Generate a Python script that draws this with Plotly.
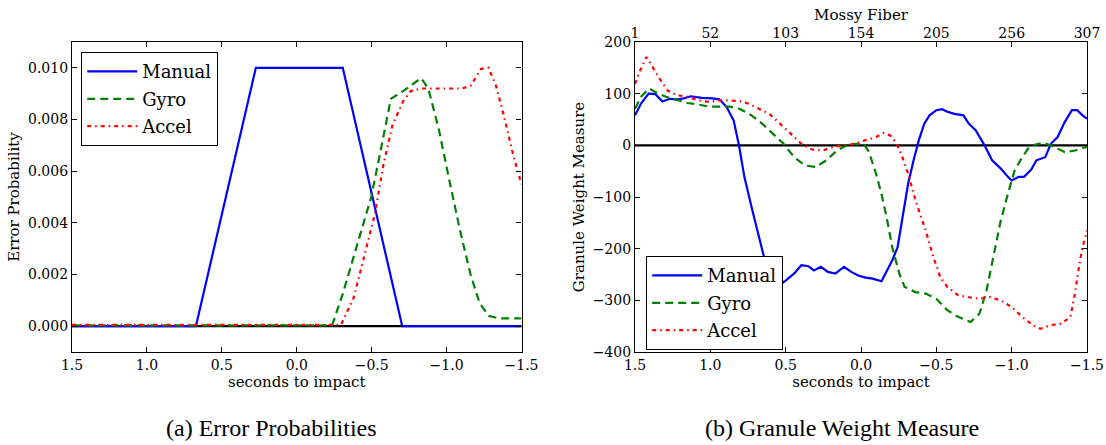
import plotly.graph_objects as go

# ---------------- Left panel: Error Probabilities ----------------
manual_t = [1.5, 0.673, 0.273, -0.307, -0.704, -1.5]
manual_p = [0.0, 0.0, 0.010, 0.010, 0.0, 0.0]

gyro_t = [1.5, 1.0, 0.5, 0.0, -0.236, -0.307, -0.366, -0.43, -0.497, -0.56, -0.628, -0.71, -0.83, -0.878,
          -0.949, -1.02, -1.09, -1.16, -1.22, -1.28, -1.35, -1.5]
gyro_p = [0.00003, 0.00003, 0.00003, 0.00003, 0.00003, 0.00125, 0.0024, 0.0037, 0.005, 0.0068, 0.0088,
          0.0091, 0.0096, 0.0092, 0.0076, 0.0056, 0.0037, 0.002, 0.0009, 0.0004, 0.0003, 0.0003]

accel_t = [1.5, 1.0, 0.5, 0.0, -0.295, -0.38, -0.45, -0.52, -0.58, -0.64, -0.71, -0.76, -0.83, -0.90,
           -1.0, -1.1, -1.16, -1.23, -1.28, -1.33, -1.38, -1.45, -1.5]
accel_p = [0.00005, 0.00005, 0.00005, 0.00005, 0.00005, 0.0011, 0.0027, 0.0043, 0.0063, 0.0078, 0.0087,
           0.0091, 0.0092, 0.0092, 0.0092, 0.0092, 0.0093, 0.00996, 0.0100, 0.0093, 0.0082, 0.0065, 0.0055]

# ---------------- Right panel: Granule Weight Measure ----------------
gm_t = [1.5, 1.46, 1.41, 1.365, 1.318, 1.27, 1.22, 1.176, 1.13, 1.058, 0.987, 0.94, 0.892, 0.845, 0.81,
        0.774, 0.727, 0.68, 0.644, 0.609, 0.514, 0.443, 0.396, 0.349, 0.313, 0.266, 0.22, 0.17, 0.112,
        0.065, 0.018, -0.03, -0.077, -0.136, -0.17, -0.207, -0.243, -0.278, -0.313, -0.349, -0.384,
        -0.42, -0.455, -0.5, -0.538, -0.573, -0.62, -0.68, -0.715, -0.762, -0.82, -0.87, -0.928, -0.975,
        -1.0, -1.046, -1.082, -1.13, -1.164, -1.223, -1.26, -1.305, -1.352, -1.4, -1.435, -1.47, -1.5]
gm_v = [58, 81, 100, 99, 85, 90, 89, 91, 95, 92, 91, 89, 74, 48, 0,
        -61, -119, -171, -216, -242, -265, -248, -232, -234, -242, -235, -245, -248, -235,
        -245, -252, -256, -258, -263, -245, -223, -197, -139, -74, -29, 10,
        42, 58, 68, 70, 65, 61, 58, 42, 29, 0, -29, -45, -61,
        -68, -61, -61, -47, -29, -23, 3, 16, 45, 68, 68, 58, 52]

gg_t = [1.5, 1.46, 1.405, 1.365, 1.294, 1.22, 1.152, 1.08, 1.01, 0.94, 0.869, 0.8, 0.727, 0.656, 0.585,
        0.514, 0.443, 0.372, 0.3, 0.23, 0.16, 0.1, 0.04, -0.02, -0.053, -0.1, -0.136, -0.17, -0.207,
        -0.254, -0.29, -0.36, -0.43, -0.5, -0.573, -0.644, -0.727, -0.786, -0.833, -0.88, -0.928,
        -0.975, -1.02, -1.07, -1.117, -1.164, -1.21, -1.28, -1.352, -1.42, -1.5]
gg_v = [71, 94, 110, 103, 94, 87, 82, 79, 75, 75, 75, 70, 58, 42, 23,
        3, -23, -39, -42, -29, -10, -1, 3, 2, -13, -55, -94, -139, -197,
        -248, -274, -284, -287, -297, -319, -332, -342, -326, -281, -210, -145,
        -94, -48, -23, -3, 2, 5, -3, -13, -10, -3]

ga_t = [1.5, 1.47, 1.424, 1.377, 1.33, 1.283, 1.22, 1.152, 1.08, 1.01, 0.94, 0.869, 0.8, 0.75, 0.68,
        0.609, 0.538, 0.467, 0.396, 0.325, 0.254, 0.183, 0.112, 0.04, -0.03, -0.1, -0.148, -0.195,
        -0.23, -0.266, -0.313, -0.349, -0.384, -0.43, -0.48, -0.526, -0.573, -0.644, -0.715, -0.786,
        -0.857, -0.928, -1.0, -1.07, -1.14, -1.19, -1.26, -1.33, -1.39, -1.42, -1.447, -1.47, -1.5]
ga_v = [119, 142, 171, 148, 126, 106, 97, 94, 87, 84, 87, 87, 85, 81, 71,
        61, 42, 23, 3, -8, -10, -3, 0, 3, 10, 16, 24, 19,
        6, -16, -55, -94, -126, -165, -216, -255, -274, -290, -294, -297,
        -294, -300, -313, -332, -348, -355, -348, -345, -332, -287, -235, -197, -165]

x_ticks = [1.5, 1.0, 0.5, 0.0, -0.5, -1.0, -1.5]
fiber_ticks = [1, 52, 103, 154, 205, 256, 307]

BLUE = "#0000ff"
GREEN = "#008000"
RED = "#ff0000"
FONT = "DejaVu Serif"
CAPTION_FONT = "Liberation Serif"
W, H = 1106, 445

fig = go.Figure()

def add_series(t, v, name, color, dash, xa, ya, legend):
    fig.add_trace(go.Scatter(
        x=t, y=v, name=name, mode="lines",
        line=dict(color=color, width=2.2, dash=dash),
        xaxis=xa, yaxis=ya, legend=legend, legendgroup=legend + name,
    ))

add_series(manual_t, manual_p, "Manual", BLUE, "solid", "x", "y", "legend")
add_series(gyro_t, gyro_p, "Gyro", GREEN, "8px,5px", "x", "y", "legend")
add_series(accel_t, accel_p, "Accel", RED, "4px,4px,1.5px,4px", "x", "y", "legend")

add_series(gm_t, gm_v, "Manual", BLUE, "solid", "x2", "y2", "legend2")
add_series(gg_t, gg_v, "Gyro", GREEN, "8px,5px", "x2", "y2", "legend2")
add_series(ga_t, ga_v, "Accel", RED, "4px,4px,1.5px,4px", "x2", "y2", "legend2")

# invisible helper trace so that the top "Mossy Fiber" axis is drawn
fig.add_trace(go.Scatter(x=[fiber_ticks[0], fiber_ticks[-1]], y=[None, None], mode="lines",
                         xaxis="x3", yaxis="y2", showlegend=False, hoverinfo="skip",
                         line=dict(width=0)))

# zero reference lines
fig.add_shape(type="line", xref="x domain", yref="y", x0=0, x1=1, y0=0, y1=0,
              line=dict(color="black", width=2.2), layer="below")
fig.add_shape(type="line", xref="x2 domain", yref="y2", x0=0, x1=1, y0=0, y1=0,
              line=dict(color="black", width=2.2), layer="below")

def px_x(p):
    return p / W

def px_y(p):
    return 1 - p / H

left_dom = [px_x(72), px_x(521.5)]
right_dom = [px_x(635), px_x(1087)]
y_dom = [px_y(352), px_y(42)]

tickfont = dict(family=FONT, size=14, color="black")
titlefont = dict(family=FONT, size=15, color="black")

common_x = dict(
    range=[1.5, -1.5], tickvals=x_ticks, tickformat=".1f", ticks="inside", ticklen=5,
    tickcolor="black", showline=True, linecolor="black", linewidth=1.2, mirror="ticks",
    showgrid=False, zeroline=False, tickfont=tickfont, automargin=False,
    title=dict(text="seconds to impact", font=titlefont, standoff=2),
)

legend_common = dict(xanchor="left", yanchor="top",
                     bgcolor="white", bordercolor="black", borderwidth=1.2,
                     font=dict(family=FONT, size=18, color="black"),
                     traceorder="grouped", tracegroupgap=1, itemwidth=50)

fig.update_layout(
    width=W, height=H, margin=dict(l=0, r=0, t=0, b=0, autoexpand=False),
    paper_bgcolor="white", plot_bgcolor="white",
    font=dict(family=FONT, color="black"),
    xaxis=dict(domain=left_dom, anchor="y", **common_x),
    yaxis=dict(domain=y_dom, anchor="x", range=[-0.001, 0.011], tickvals=[0, 0.002, 0.004, 0.006, 0.008, 0.010],
               tickformat=".3f", ticks="inside", ticklen=5, tickcolor="black", showline=True,
               linecolor="black", linewidth=1.2, mirror="ticks", showgrid=False, zeroline=False,
               tickfont=tickfont, automargin=False,
               title=dict(text="Error Probability", font=titlefont, standoff=4)),
    xaxis2=dict(domain=right_dom, anchor="y2", **common_x),
    yaxis2=dict(domain=y_dom, anchor="x2", range=[-400, 200], dtick=100, ticks="inside", ticklen=5,
                tickcolor="black", showline=True, linecolor="black", linewidth=1.2, mirror="ticks",
                showgrid=False, zeroline=False, tickfont=tickfont, automargin=False,
                title=dict(text="Granule Weight Measure", font=titlefont, standoff=4)),
    xaxis3=dict(overlaying="x2", anchor="y2", side="top", range=[1, 307], tickvals=fiber_ticks,
                ticks="inside", ticklen=5, tickcolor="black", showgrid=False, zeroline=False,
                showline=False, tickfont=tickfont, automargin=False,
                title=dict(text="Mossy Fiber", font=titlefont, standoff=0)),
    legend=dict(x=px_x(81), y=px_y(52), **legend_common),
    legend2=dict(x=px_x(646), y=px_y(256), **legend_common),
    showlegend=True,
)

# captions
fig.add_annotation(text="(a) Error Probabilities", xref="paper", yref="paper",
                   x=px_x(271), y=px_y(428), xanchor="center", yanchor="middle", showarrow=False,
                   font=dict(family=CAPTION_FONT, size=24, color="black"))
fig.add_annotation(text="(b) Granule Weight Measure", xref="paper", yref="paper",
                   x=px_x(842), y=px_y(428), xanchor="center", yanchor="middle", showarrow=False,
                   font=dict(family=CAPTION_FONT, size=24, color="black"))

fig.write_html("out.html")
